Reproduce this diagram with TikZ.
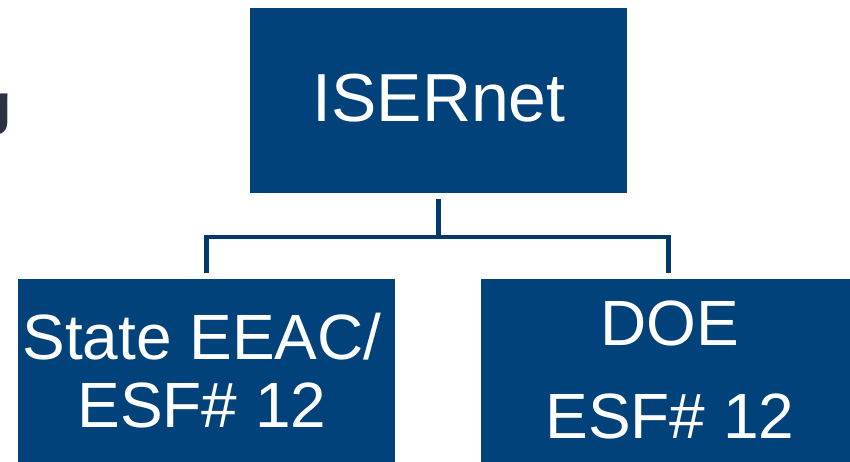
\documentclass[tikz,border=0pt]{standalone}
\usepackage{fontspec}
\setmainfont{Liberation Sans}
\usepackage{tikz}
\tikzset{>=latex}
\usetikzlibrary{positioning,calc}
\definecolor{orgblue}{HTML}{02427A}
\definecolor{linkblue}{HTML}{03386A}
\definecolor{titlegrey}{HTML}{2B3241}
\tikzset{
  orgbox/.style={fill=orgblue,draw=none,inner sep=0pt,anchor=north west},
  orgtext/.style={text=white,inner sep=0pt,anchor=base,align=center,font=\fontsize{64}{68}\selectfont},
  orglink/.style={draw=linkblue,line width=4.5pt}
}

\begin{document}
\begin{tikzpicture}[x=1pt,y=-1pt]
                \useasboundingbox (0,0) rectangle (850,462);
                % cut-off title letter at the left edge
                \node[text=titlegrey,inner sep=0pt,anchor=base east,font=\bfseries\fontsize{56}{60}\selectfont] (titlecut) at (11.5,124) {g};
                % boxes
                \node[orgbox,minimum width=377pt,minimum height=185pt] (isernet) at (250,8) {};
                \node[orgbox,minimum width=377pt,minimum height=190pt] (eeac) at (18,279) {};
                \node[orgbox,minimum width=375pt,minimum height=190pt] (doe) at (481,279) {};
                % labels (base = last line)
                \node[orgtext,font=\fontsize{68}{72}\selectfont] (isernettext) at (439,122) {ISERnet};
                \node[orgtext] (eeactext) at (202,427) {State EEAC/\\ESF\# 12};
                \node[orgtext] (doetext) at (670,438) {DOE\\[25pt]ESF\# 12};
                % connectors
                \draw[orglink,shorten <=6pt,shorten >=6pt] (isernet.south) -- ++(0,43.5) coordinate (split) -| (eeac.north);
                \draw[orglink,shorten >=6pt] (split) -| (doe.north);
            \end{tikzpicture}
\end{document}
